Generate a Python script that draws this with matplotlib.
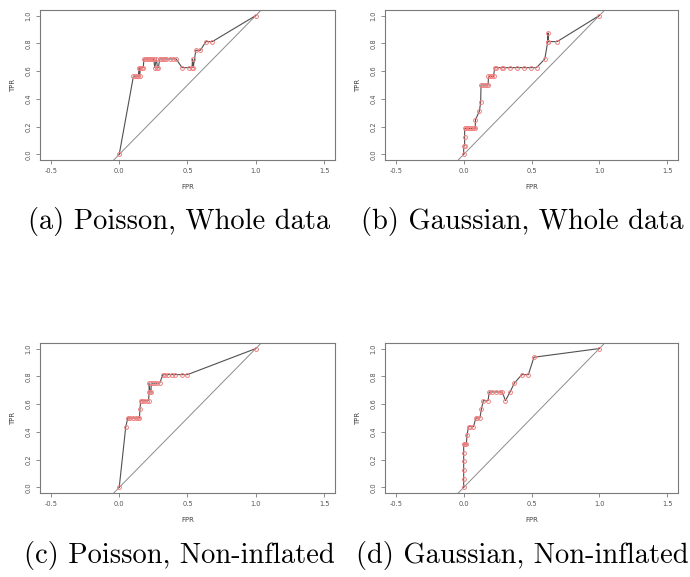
import matplotlib.pyplot as plt

# ---------------------------- ROC data ------------------------------------
fpr_a = [0, 0.104, 0.116, 0.128, 0.14, 0.145, 0.15, 0.155, 0.165, 0.176, 0.181,
         0.193, 0.205, 0.217, 0.229, 0.241, 0.253, 0.26, 0.272, 0.28, 0.287,
         0.296, 0.308, 0.32, 0.333, 0.345, 0.369, 0.393, 0.417, 0.46, 0.508,
         0.533, 0.537, 0.542, 0.561, 0.595, 0.634, 0.682, 1.0]
tpr_a = [0, 0.5625, 0.5625, 0.5625, 0.5625, 0.625, 0.5625, 0.625, 0.625, 0.625,
         0.6875, 0.6875, 0.6875, 0.6875, 0.6875, 0.6875, 0.6875, 0.625, 0.6875,
         0.625, 0.625, 0.6875, 0.6875, 0.6875, 0.6875, 0.6875, 0.6875, 0.6875,
         0.6875, 0.625, 0.625, 0.625, 0.6875, 0.625, 0.75, 0.75, 0.8125, 0.8125,
         1.0]

fpr_b = [0, 0, 0.007, 0.007, 0.007, 0.015, 0.03, 0.045, 0.06, 0.075, 0.085,
         0.087, 0.116, 0.125, 0.128, 0.14, 0.155, 0.17, 0.18, 0.183, 0.195,
         0.21, 0.22, 0.229, 0.24, 0.284, 0.29, 0.345, 0.393, 0.448, 0.494,
         0.537, 0.598, 0.62, 0.622, 0.622, 0.689, 1.0]
tpr_b = [0, 0.0625, 0.0625, 0.125, 0.1875, 0.1875, 0.1875, 0.1875, 0.1875,
         0.1875, 0.1875, 0.25, 0.3125, 0.375, 0.5, 0.5, 0.5, 0.5, 0.5, 0.5625,
         0.5625, 0.5625, 0.5625, 0.625, 0.625, 0.625, 0.625, 0.625, 0.625,
         0.625, 0.625, 0.625, 0.6875, 0.8125, 0.875, 0.8125, 0.8125, 1.0]

fpr_c = [0, 0.048, 0.063, 0.08, 0.1, 0.12, 0.135, 0.148, 0.152, 0.157, 0.17,
         0.185, 0.2, 0.215, 0.219, 0.219, 0.225, 0.232, 0.235, 0.25, 0.265,
         0.28, 0.296, 0.32, 0.335, 0.36, 0.385, 0.41, 0.46, 0.5, 1.0]
tpr_c = [0, 0.4375, 0.5, 0.5, 0.5, 0.5, 0.5, 0.5, 0.5625, 0.625, 0.625, 0.625,
         0.625, 0.625, 0.6875, 0.75, 0.6875, 0.6875, 0.75, 0.75, 0.75, 0.75,
         0.75, 0.8125, 0.8125, 0.8125, 0.8125, 0.8125, 0.8125, 0.8125, 1.0]

fpr_d = [0, 0, 0, 0, 0, 0, 0.01, 0.02, 0.024, 0.036, 0.05, 0.072, 0.09, 0.1,
         0.12, 0.13, 0.145, 0.18, 0.188, 0.21, 0.236, 0.27, 0.284, 0.308,
         0.342, 0.373, 0.429, 0.477, 0.518, 1.0]
tpr_d = [0, 0.0625, 0.125, 0.1875, 0.25, 0.3125, 0.3125, 0.3125, 0.375, 0.4375,
         0.4375, 0.4375, 0.5, 0.5, 0.5, 0.5625, 0.625, 0.625, 0.6875, 0.6875,
         0.6875, 0.6875, 0.6875, 0.625, 0.6875, 0.75, 0.8125, 0.8125, 0.9375,
         1.0]

captions = ["(a) Poisson, Whole data", "(b) Gaussian, Whole data",
            "(c) Poisson, Non-inflated", "(d) Gaussian, Non-inflated"]
curves = [(fpr_a, tpr_a), (fpr_b, tpr_b), (fpr_c, tpr_c), (fpr_d, tpr_d)]

# ---------------------------- layout -------------------------------------
W, H = 690, 577
boxes = [(40, 10, 335, 160), (385, 10, 678, 160),
         (40, 343, 335, 493), (385, 343, 678, 493)]
cap_pos = [(179, 221), (522, 221), (179, 556), (522, 556)]

fig = plt.figure(figsize=(W / 100, H / 100), dpi=100)
edge = "#7a7a7a"
for (x0, y0, x1, y1), (fpr, tpr), cap, (cx, cy) in zip(boxes, curves, captions, cap_pos):
    ax = fig.add_axes([x0 / W, 1 - y1 / H, (x1 - x0) / W, (y1 - y0) / H])
    ax.plot([-1, 2], [-1, 2], color="#8c8c8c", lw=0.7)
    ax.plot(fpr, tpr, color="#505050", lw=0.8)
    ax.plot(fpr, tpr, "o", ms=2.8, mfc="none", mec="#f08080", mew=0.7)
    ax.set_xlim(-0.58, 1.58)
    ax.set_ylim(-0.04, 1.04)
    ax.set_xticks([-0.5, 0.0, 0.5, 1.0, 1.5])
    ax.set_yticks([0.0, 0.2, 0.4, 0.6, 0.8, 1.0])
    ax.set_xticklabels(["-0.5", "0.0", "0.5", "1.0", "1.5"])
    ax.set_yticklabels(["0.0", "0.2", "0.4", "0.6", "0.8", "1.0"], rotation=90, va="center")
    ax.tick_params(labelsize=4.8, colors="#555555", length=3, width=0.6, pad=3, color=edge)
    for s in ax.spines.values():
        s.set_color(edge)
        s.set_linewidth(0.8)
    ax.set_xlabel("FPR", fontsize=5, color="#444444", labelpad=7)
    ax.set_ylabel("TPR", fontsize=5, color="#444444", labelpad=7)
    fig.text(cx / W, 1 - cy / H, cap, family="cmr10", fontsize=20.5,
             ha="center", va="center")

fig.savefig("out.png", dpi=100)
